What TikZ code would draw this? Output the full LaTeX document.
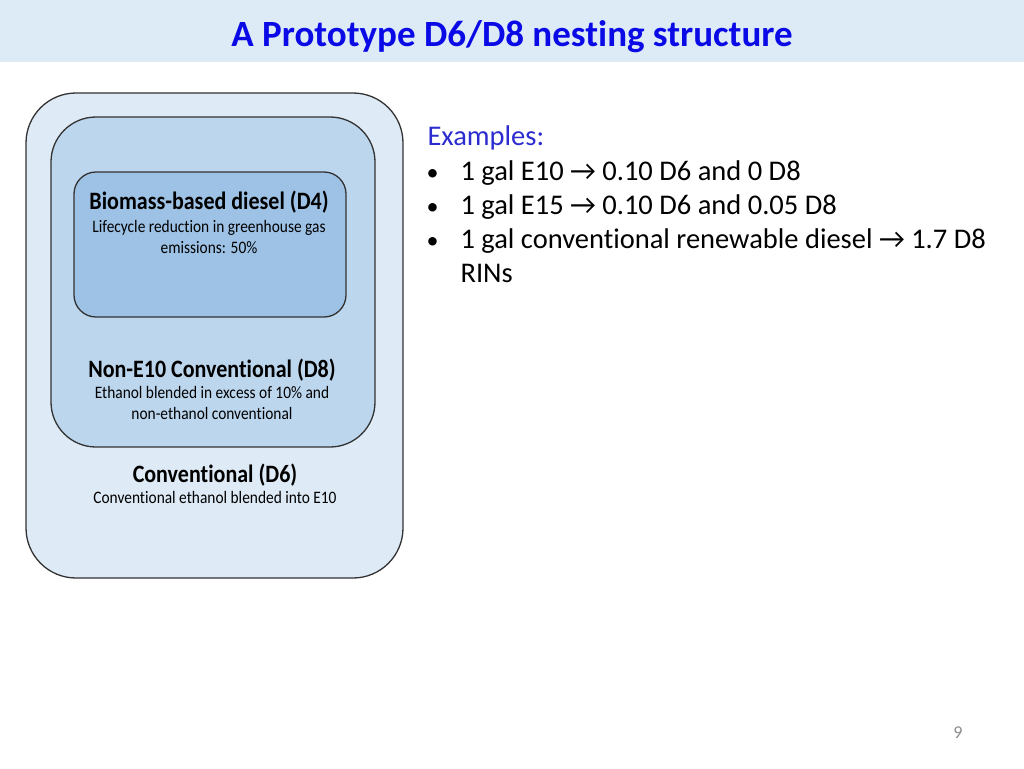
\documentclass[tikz,border=0pt]{standalone}
\usepackage{fontspec}
\setmainfont{Carlito}[Ligatures=NoCommon]
\newfontfamily\narrowfont{Carlito}[FakeStretch=0.88,Ligatures=NoCommon]

\definecolor{headband}{HTML}{DDEBF7}
\definecolor{titleblue}{HTML}{0A0AE6}
\definecolor{exblue}{HTML}{2B2BD0}
\definecolor{outerfill}{HTML}{DEEAF6}
\definecolor{midfill}{HTML}{BCD6EE}
\definecolor{innerfill}{HTML}{9DC2E5}

\begin{document}
\begin{tikzpicture}[x=1pt,y=-1pt,
  box/.style={draw=black!80,line width=1.3pt},
  rinhead/.style={anchor=base,font=\narrowfont\fontsize{25}{28}\selectfont\bfseries},
  rintext/.style={anchor=base,align=center,font=\narrowfont\fontsize{17.5}{21}\selectfont},
  exline/.style={anchor=base west,font=\fontsize{28.5}{34}\selectfont}]
  \useasboundingbox (0,0) rectangle (1024,768);
  \fill[headband] (0,0) rectangle (1024,62);
  \node[anchor=base,text=titleblue,font=\fontsize{37}{40}\selectfont\bfseries] (title) at (512,47)
    {A Prototype D6/D8 nesting structure};

  \draw[box,fill=outerfill,rounded corners=50] (26,93) rectangle (403,578);
  \draw[box,fill=midfill,rounded corners=45] (51,117) rectangle (375,447);
  \draw[box,fill=innerfill,rounded corners=22] (74,172) rectangle (346,317);

  \node[rinhead] (d4) at (209,209) {Biomass-based diesel (D4)};
  \node[rintext] (d4txt) at (209,232) {Lifecycle reduction in greenhouse gas};
  \node[rintext] (d4txtb) at (209,253) {emissions: 50\%};
  \node[rinhead] (d8) at (212,377) {Non-E10 Conventional (D8)};
  \node[rintext] (d8txt) at (212,398) {Ethanol blended in excess of 10\% and};
  \node[rintext] (d8txtb) at (212,419) {non-ethanol conventional};
  \node[rinhead] (d6) at (215,482) {Conventional (D6)};
  \node[rintext] (d6txt) at (215,503) {Conventional ethanol blended into E10};

  \node[exline,text=exblue] (ex) at (424,145) {Examples:};
  \foreach \y/\txt [count=\i] in {180/{1 gal E10 → 0.10 D6 and 0 D8},
      214/{1 gal E15 → 0.10 D6 and 0.05 D8},
      248/{1 gal conventional renewable diesel → 1.7 D8}} {
    \node[exline,font=\fontsize{24}{34}\selectfont] (bul\i) at (423,\y) {•};
    \node[exline] (item\i) at (457,\y) {\txt};
  }
  \node[exline] (rins) at (457,282) {RINs};

  \node[text=black!45,font=\fontsize{18}{20}\selectfont] (page) at (958,733) {9};
\end{tikzpicture}
\end{document}
